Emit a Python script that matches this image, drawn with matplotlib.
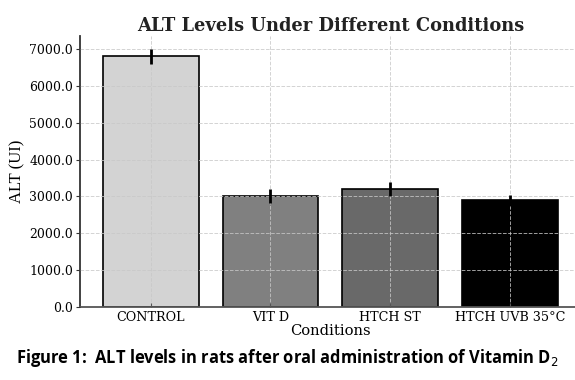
import numpy as np
import matplotlib
matplotlib.use("Agg")
import matplotlib.pyplot as plt
from matplotlib.ticker import FormatStrFormatter

# data
conditions = ["CONTROL", "VIT D", "HTCH ST", "HTCH UVB 35°C"]
alt_values = [6800, 3000, 3200, 2900]
alt_errors = [200, 190, 180, 150]
bar_colors = ["#d3d3d3", "#808080", "#696969", "#000000"]

fig = plt.figure(figsize=(5.75, 3.8), dpi=100)
ax = fig.add_axes([0.139, 0.192, 0.871, 0.713])

x = np.arange(len(conditions))
ax.bar(x, alt_values, width=0.8, color=bar_colors, edgecolor="black", linewidth=1.2, zorder=1)
# error bars on top of the grid
ax.errorbar(x, alt_values, yerr=alt_errors, fmt="none", ecolor="black",
            elinewidth=2, capsize=0, zorder=3)

ax.set_xlim(-0.59, 3.59)
ax.set_ylim(0, 7350)
ax.set_xticks(x)
ax.set_xticklabels(conditions, fontfamily="DejaVu Serif", fontsize=9.2)
ax.yaxis.set_major_formatter(FormatStrFormatter("%.1f"))
for lbl in ax.get_yticklabels():
    lbl.set_fontfamily("DejaVu Serif")
    lbl.set_fontsize(8.9)

ax.set_axisbelow(False)
ax.grid(True, linestyle="--", color="#c8c8c8", linewidth=0.7, alpha=0.8, zorder=2)

ax.spines["top"].set_visible(False)
ax.spines["right"].set_visible(False)
ax.spines["left"].set_color("#333333")
ax.spines["bottom"].set_color("#555555")
ax.spines["left"].set_linewidth(1.3)
ax.spines["bottom"].set_linewidth(1.3)
ax.tick_params(axis="x", direction="in", length=3, pad=3, color="#555555")
ax.tick_params(axis="y", direction="out", length=3, pad=2, color="#333333")

ax.set_title("ALT Levels Under Different Conditions", fontfamily="DejaVu Serif",
             fontweight="bold", fontsize=12.9, color="#222222", pad=4)
ax.set_xlabel("Conditions", fontfamily="DejaVu Serif", fontsize=10.6, labelpad=0)
ax.set_ylabel("ALT (UI)", fontfamily="Liberation Serif", fontsize=12, labelpad=3)

fig.text(0.5, 0.058, "Figure 1:  ALT levels in rats after oral administration of Vitamin D$_2$",
         ha="center", va="center", fontfamily="Open Sans", fontweight="bold", fontsize=11.9)

fig.savefig("out.png", dpi=100)
